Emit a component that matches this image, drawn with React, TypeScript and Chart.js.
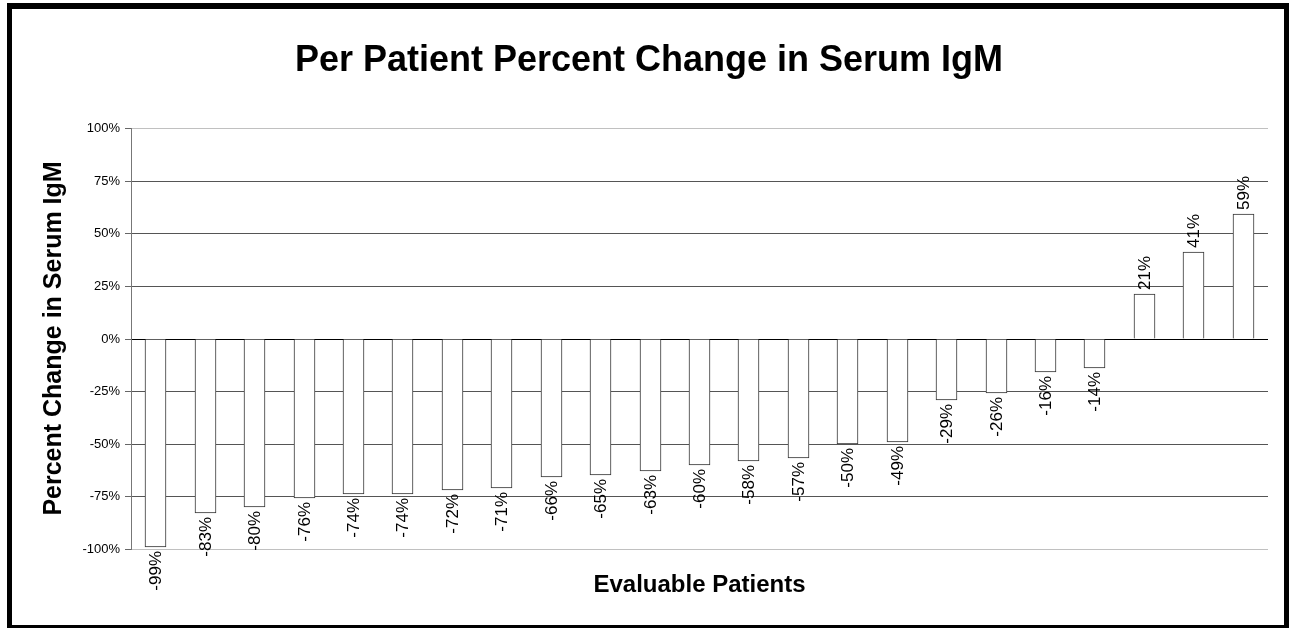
import React, { useEffect, useRef } from "react";
import { Chart, registerables, CategoryScale, LinearScale } from "chart.js";

// Category scale whose pixel positions land on half pixels, so that
// bars of odd thickness get crisp 1px outlines.
class SnapCategoryScale extends CategoryScale {
  static id = "snapCategory";
  static defaults = CategoryScale.defaults;
  getPixelForValue(value: any, index?: number): number {
    const p = super.getPixelForValue(value, index);
    return Math.floor(p) + 0.5;
  }
}

// Linear scale rounded to whole pixels so bar ends are crisp too
class SnapLinearScale extends LinearScale {
  static id = "snapLinear";
  static defaults = LinearScale.defaults;
  getPixelForValue(value: any): number {
    return Math.round(super.getPixelForValue(value));
  }
}

Chart.register(...registerables, SnapCategoryScale, SnapLinearScale);

// Percent change in serum IgM for each evaluable patient, sorted ascending
const patients: string[] = Array.from({ length: 23 }, (_, i) => `Patient ${i + 1}`);
const percentChange: number[] = [
  -99, -83, -80, -76, -74, -74, -72, -71, -66, -65, -63, -60, -58, -57, -50, -49,
  -29, -26, -16, -14, 21, 41, 59,
];
const yTicks: number[] = [-100, -75, -50, -25, 0, 25, 50, 75, 100];

const FONT = 'Arial, "Liberation Sans", sans-serif';

// Thick black frame around the whole figure
const framePlugin = {
  id: "frame",
  beforeDraw(chart: any) {
    const { ctx, width, height } = chart;
    ctx.save();
    ctx.fillStyle = "#ffffff";
    ctx.fillRect(0, 0, width, height);
    ctx.fillStyle = "#000000";
    ctx.fillRect(7, 3, width - 7, 6); // top
    ctx.fillRect(7, 3, 5, height - 3); // left
    ctx.fillRect(width - 5, 3, 5, height - 3); // right
    ctx.fillRect(7, height - 3, width - 7, 3); // bottom
    ctx.restore();
  },
};

// Rotated value labels placed just beyond the end of each bar
const valueLabelPlugin = {
  id: "valueLabels",
  afterDatasetsDraw(chart: any) {
    const { ctx } = chart;
    const meta = chart.getDatasetMeta(0);
    const values = chart.data.datasets[0].data as number[];
    ctx.save();
    ctx.font = `17px ${FONT}`;
    ctx.fillStyle = "#000000";
    ctx.textBaseline = "middle";
    meta.data.forEach((bar: any, i: number) => {
      const v = values[i];
      const gap = 4;
      ctx.save();
      if (v < 0) {
        ctx.translate(bar.x, bar.y + gap);
        ctx.rotate(-Math.PI / 2);
        ctx.textAlign = "right";
      } else {
        ctx.translate(bar.x, bar.y - gap);
        ctx.rotate(-Math.PI / 2);
        ctx.textAlign = "left";
      }
      ctx.fillText(`${v}%`, 0, 1);
      ctx.restore();
    });
    ctx.restore();
  },
};

export default function App() {
  const canvasRef = useRef<HTMLCanvasElement | null>(null);

  useEffect(() => {
    document.body.style.margin = "0";
    const canvas = canvasRef.current;
    if (!canvas) return;
    const chart = new Chart(canvas, {
      type: "bar",
      data: {
        labels: patients,
        datasets: [
          {
            data: percentChange,
            backgroundColor: "#ffffff",
            borderColor: "#333333",
            borderWidth: 1,
            barThickness: 21,
          },
        ],
      },
      options: {
        animation: false,
        responsive: false,
        maintainAspectRatio: false,
        layout: { padding: { left: 30, right: 21, top: 0, bottom: 0 } },
        plugins: {
          legend: { display: false },
          tooltip: { enabled: false },
          title: {
            display: true,
            text: "Per Patient Percent Change in Serum IgM",
            color: "#000000",
            font: { family: FONT, size: 36, weight: "bold", lineHeight: 1.2 },
            padding: { top: 39.4, bottom: 45.4 },
          },
        },
        scales: {
          x: {
            type: "snapCategory" as any,
            grid: { display: false },
            border: { display: false },
            ticks: { display: false },
            title: {
              display: true,
              text: "Evaluable Patients",
              color: "#000000",
              font: { family: FONT, size: 24, weight: "bold", lineHeight: 1.2 },
              padding: { top: 0, bottom: 28.6 },
            },
            afterFit(scale: any) {
              scale.height = 79;
            },
          },
          y: {
            type: "snapLinear" as any,
            min: -100,
            max: 100,
            afterBuildTicks(scale: any) {
              scale.ticks = yTicks.map((v) => ({ value: v }));
            },
            ticks: {
              color: "#000000",
              font: { family: FONT, size: 13 },
              padding: 5,
              callback: (v: any) => `${v}%`,
            },
            grid: {
              color: (ctx: any) => {
                const v = ctx.tick ? ctx.tick.value : null;
                if (v === 0) return "#000000";
                if (v === 100 || v === -100) return "#c0c0c0";
                return "#555555";
              },
              tickColor: "#666666",
              tickLength: 6,
              lineWidth: 1,
            },
            border: { display: true, color: "#777777", width: 1 },
            title: {
              display: true,
              text: "Percent Change in Serum IgM",
              color: "#000000",
              font: { family: FONT, size: 25, weight: "bold", lineHeight: 1.2 },
              padding: { top: 9.3, bottom: 0 },
            },
            afterFit(scale: any) {
              scale.width = 101;
            },
          },
        },
      },
      plugins: [framePlugin, valueLabelPlugin],
    });
    return () => chart.destroy();
  }, []);

  return (
    <div style={{ position: "absolute", left: 0, top: 0, width: 1289, height: 628 }}>
      <canvas ref={canvasRef} width={1289} height={628} style={{ display: "block" }} />
    </div>
  );
}
